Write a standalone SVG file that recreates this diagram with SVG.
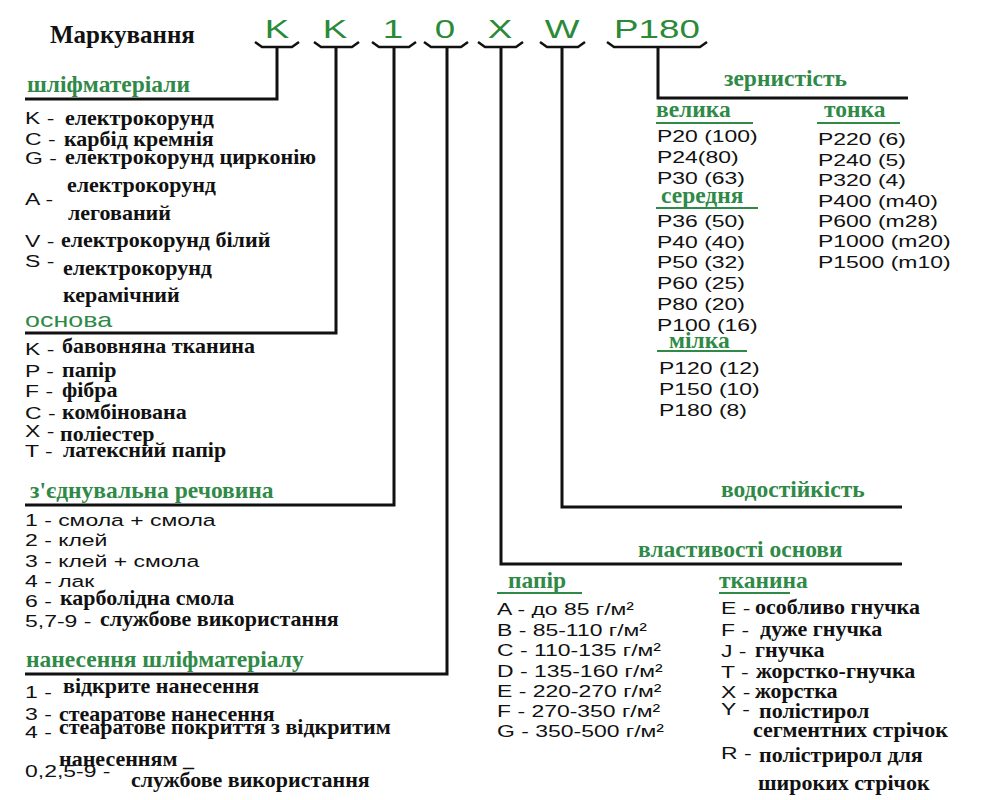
<svg xmlns="http://www.w3.org/2000/svg" width="1000" height="800" viewBox="0 0 1000 800">
<style>
.bg{fill:#ffffff}
.code{font-family:"Liberation Sans",Arial,sans-serif;font-size:25px;fill:#2a8a38;text-anchor:middle}
.title{font-family:"Liberation Serif","Times New Roman",serif;font-size:25px;font-weight:bold;fill:#111}
.h{font-family:"Liberation Serif","Times New Roman",serif;font-size:23.5px;font-weight:bold;fill:#2f8a47}
.hs{font-family:"Liberation Sans",Arial,sans-serif;font-size:21px;fill:#2f8a47}
.t{font-family:"Liberation Serif","Times New Roman",serif;font-size:22px;font-weight:bold;fill:#111}
.s{font-family:"Liberation Sans",Arial,sans-serif;font-size:17px;fill:#111}
.ln{stroke:#111;stroke-width:3;fill:none}
.br{stroke:#111;stroke-width:2.5;fill:none;stroke-linejoin:round}
.ul{stroke:#2f8a47;stroke-width:2}
</style>
<rect class="bg" x="0" y="0" width="1000" height="800"/>

<g id="marking">
<text class="title" x="50" y="43">Маркування</text>
<text class="code" transform="translate(277,38) scale(1.47,1)">K</text>
<text class="code" transform="translate(335,38) scale(1.47,1)">K</text>
<text class="code" transform="translate(393,38) scale(1.47,1)">1</text>
<text class="code" transform="translate(445,38) scale(1.47,1)">0</text>
<text class="code" transform="translate(500,38) scale(1.47,1)">X</text>
<text class="code" transform="translate(562,38) scale(1.47,1)">W</text>
<text class="code" transform="translate(657,38) scale(1.47,1)">P180</text>
</g>

<g id="connectors">
<path class="br" d="M255,42 L262,47 L292,47 L299,42"/>
<path class="br" d="M314,42 L321,47 L352,47 L359,42"/>
<path class="br" d="M372,42 L379,47 L409,47 L416,42"/>
<path class="br" d="M424,42 L431,47 L461,47 L468,42"/>
<path class="br" d="M478,42 L485,47 L516,47 L523,42"/>
<path class="br" d="M540,42 L547,47 L578,47 L585,42"/>
<path class="br" d="M607,42 L614,47 L700,47 L707,42"/>
<path class="ln" d="M277,47 V99 H25"/>
<path class="ln" d="M336,47 V333 H25"/>
<path class="ln" d="M394,47 V505 H25"/>
<path class="ln" d="M447,47 V674 H25"/>
<path class="ln" d="M501,47 V564 H902"/>
<path class="ln" d="M562,47 V507 H902"/>
<path class="ln" d="M658,47 V98 H908"/>
</g>

<g id="abrasive">
<text class="h" x="27" y="92">шліфматеріали</text>
<text class="s" transform="translate(25,124) scale(1.35,1)">K -</text>
<text class="t" x="65" y="125">електрокорунд</text>
<text class="s" transform="translate(25,145) scale(1.35,1)">C -</text>
<text class="t" x="64" y="146">карбід кремнія</text>
<text class="s" transform="translate(25,164) scale(1.35,1)">G -</text>
<text class="t" x="65" y="164">електрокорунд цирконію</text>
<text class="t" x="67" y="192">електрокорунд</text>
<text class="s" transform="translate(25,205) scale(1.35,1)">A -</text>
<text class="t" x="68" y="220">легований</text>
<text class="s" transform="translate(25,247) scale(1.35,1)">V -</text>
<text class="t" x="61" y="247">електрокорунд білий</text>
<text class="s" transform="translate(25,267) scale(1.35,1)">S -</text>
<text class="t" x="63" y="275">електрокорунд</text>
<text class="t" x="63" y="302">керамічний</text>
</g>

<g id="backing">
<text class="hs" transform="translate(25,327) scale(1.28,1)">основа</text>
<text class="s" transform="translate(25,355) scale(1.35,1)">K -</text>
<text class="t" x="62" y="353">бавовняна тканина</text>
<text class="s" transform="translate(25,377) scale(1.35,1)">P -</text>
<text class="t" x="62" y="377">папір</text>
<text class="s" transform="translate(25,397) scale(1.35,1)">F -</text>
<text class="t" x="62" y="397">фібра</text>
<text class="s" transform="translate(25,419) scale(1.35,1)">C -</text>
<text class="t" x="62" y="419">комбінована</text>
<text class="s" transform="translate(25,437) scale(1.35,1)">X -</text>
<text class="t" x="60" y="441">поліестер</text>
<text class="s" transform="translate(25,457) scale(1.35,1)">T -</text>
<text class="t" x="63" y="457">латексний папір</text>
</g>

<g id="bond">
<text class="h" x="30" y="498">з'єднувальна речовина</text>
<text class="s" transform="translate(25,526) scale(1.35,1)">1 - смола + смола</text>
<text class="s" transform="translate(25,546) scale(1.35,1)">2 - клей</text>
<text class="s" transform="translate(25,567) scale(1.35,1)">3 - клей + смола</text>
<text class="s" transform="translate(25,587) scale(1.35,1)">4 - лак</text>
<text class="s" transform="translate(25,607) scale(1.35,1)">6 -</text>
<text class="t" x="60" y="605">карболідна смола</text>
<text class="s" transform="translate(25,627) scale(1.35,1)">5,7-9 -</text>
<text class="t" x="100" y="626">службове використання</text>
</g>

<g id="coating">
<text class="h" x="26" y="667">нанесення шліфматеріалу</text>
<text class="s" transform="translate(25,698) scale(1.35,1)" font-size="15">1 -</text>
<text class="t" x="63" y="693">відкрите нанесення</text>
<text class="s" transform="translate(25,720) scale(1.35,1)">3 -</text>
<text class="t" x="59" y="721">стеаратове нанесення</text>
<text class="s" transform="translate(25,738) scale(1.35,1)">4 -</text>
<text class="t" x="59" y="734">стеаратове покриття з відкритим</text>
<text class="t" x="59" y="766">нанесенням _</text>
<text class="s" transform="translate(25,777) scale(1.35,1)">0,2,5-9 -</text>
<text class="t" x="131" y="787">службове використання</text>
</g>

<g id="grit">
<text class="h" x="724" y="86">зернистість</text>
<text class="h" x="656" y="117">велика</text>
<line class="ul" x1="656" y1="123" x2="753" y2="123"/>
<text class="h" x="824" y="117">тонка</text>
<line class="ul" x1="817" y1="123" x2="900" y2="123"/>
<text class="s" transform="translate(657,142) scale(1.35,1)">P20 (100)</text>
<text class="s" transform="translate(657,163) scale(1.35,1)">P24(80)</text>
<text class="s" transform="translate(657,184) scale(1.35,1)">P30 (63)</text>
<text class="h" x="661" y="203">середня</text>
<line class="ul" x1="656" y1="208" x2="758" y2="208"/>
<text class="s" transform="translate(657,227) scale(1.35,1)">P36 (50)</text>
<text class="s" transform="translate(657,248) scale(1.35,1)">P40 (40)</text>
<text class="s" transform="translate(657,268) scale(1.35,1)">P50 (32)</text>
<text class="s" transform="translate(657,289) scale(1.35,1)">P60 (25)</text>
<text class="s" transform="translate(657,310) scale(1.35,1)">P80 (20)</text>
<text class="s" transform="translate(657,331) scale(1.35,1)">P100 (16)</text>
<text class="h" x="669" y="348">мілка</text>
<line class="ul" x1="657" y1="351" x2="747" y2="351"/>
<text class="s" transform="translate(659,374) scale(1.35,1)">P120 (12)</text>
<text class="s" transform="translate(659,395) scale(1.35,1)">P150 (10)</text>
<text class="s" transform="translate(659,416) scale(1.35,1)">P180 (8)</text>
<text class="s" transform="translate(818,145) scale(1.35,1)">P220 (6)</text>
<text class="s" transform="translate(818,166) scale(1.35,1)">P240 (5)</text>
<text class="s" transform="translate(818,186) scale(1.35,1)">P320 (4)</text>
<text class="s" transform="translate(818,207) scale(1.35,1)">P400 (m40)</text>
<text class="s" transform="translate(818,227) scale(1.35,1)">P600 (m28)</text>
<text class="s" transform="translate(818,247) scale(1.35,1)">P1000 (m20)</text>
<text class="s" transform="translate(818,268) scale(1.35,1)">P1500 (m10)</text>
</g>

<g id="water">
<text class="h" x="721" y="497">водостійкість</text>
</g>

<g id="backing-props">
<text class="h" x="638" y="557">властивості основи</text>
<text class="h" x="508" y="588">папір</text>
<line class="ul" x1="497" y1="593" x2="582" y2="593"/>
<text class="h" x="719" y="588">тканина</text>
<line class="ul" x1="719" y1="593" x2="790" y2="593"/>
<text class="s" transform="translate(497,615) scale(1.35,1)">A - до 85 г/м²</text>
<text class="s" transform="translate(497,636) scale(1.35,1)">B - 85-110 г/м²</text>
<text class="s" transform="translate(497,656) scale(1.35,1)">C - 110-135 г/м²</text>
<text class="s" transform="translate(497,677) scale(1.35,1)">D - 135-160 г/м²</text>
<text class="s" transform="translate(497,697) scale(1.35,1)">E - 220-270 г/м²</text>
<text class="s" transform="translate(497,717) scale(1.35,1)">F - 270-350 г/м²</text>
<text class="s" transform="translate(497,737) scale(1.35,1)">G - 350-500 г/м²</text>
<text class="s" transform="translate(721,614) scale(1.35,1)">E -</text>
<text class="t" x="755" y="614">особливо гнучка</text>
<text class="s" transform="translate(721,636) scale(1.35,1)">F -</text>
<text class="t" x="760" y="636">дуже гнучка</text>
<text class="s" transform="translate(721,657) scale(1.35,1)">J -</text>
<text class="t" x="755" y="657">гнучка</text>
<text class="s" transform="translate(721,678) scale(1.35,1)">T -</text>
<text class="t" x="756" y="678">жорстко-гнучка</text>
<text class="s" transform="translate(721,698) scale(1.35,1)">X -</text>
<text class="t" x="755" y="698">жорстка</text>
<text class="s" transform="translate(721,715) scale(1.35,1)">Y -</text>
<text class="t" x="759" y="718">полістирол</text>
<text class="t" x="753" y="737">сегментних стрічок</text>
<text class="s" transform="translate(721,759) scale(1.35,1)">R -</text>
<text class="t" x="759" y="762">полістрирол для</text>
<text class="t" x="758" y="790">широких стрічок</text>
</g>
</svg>
